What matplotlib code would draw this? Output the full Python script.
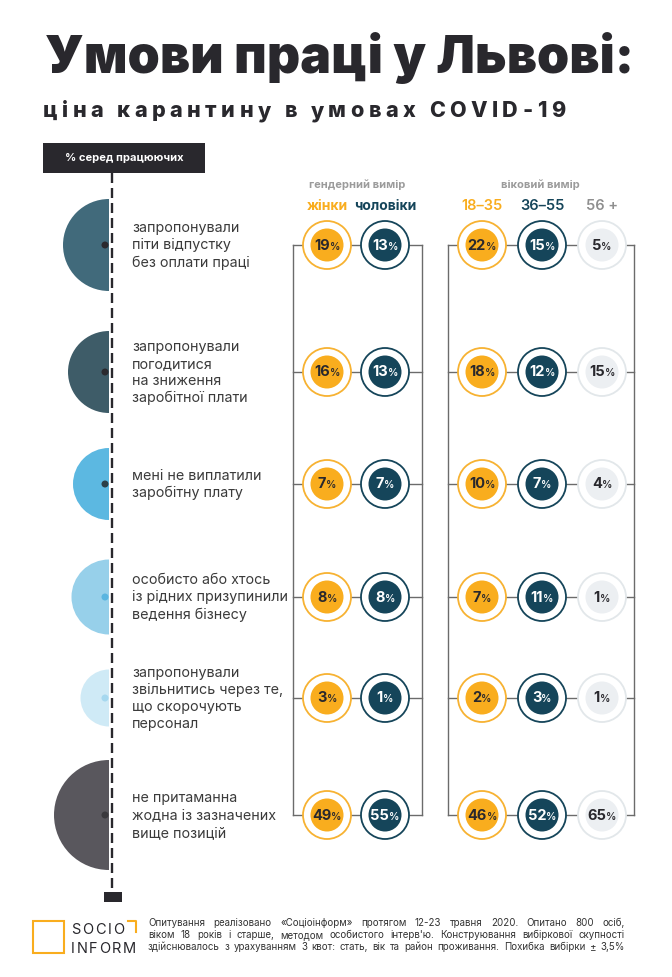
import matplotlib
matplotlib.use('Agg')
import matplotlib.pyplot as plt
from matplotlib.patches import Circle, Wedge, Rectangle

plt.rcParams['font.family'] = ['Inter', 'DejaVu Sans']
plt.rcParams['lines.scale_dashes'] = False

labels = [
    ['запропонували', 'піти відпустку', 'без оплати праці'],
    ['запропонували', 'погодитися', 'на зниження', 'заробітної плати'],
    ['мені не виплатили', 'заробітну плату'],
    ['особисто або хтось', 'із рідних призупинили', 'ведення бізнесу'],
    ['запропонували', 'звільнитись через те,', 'що скорочують', 'персонал'],
    ['не притаманна', 'жодна із зазначених', 'вище позицій'],
]
women = [19, 16, 7, 8, 3, 49]
men = [13, 13, 7, 8, 1, 55]
age_18_35 = [22, 18, 10, 7, 2, 46]
age_36_55 = [15, 12, 7, 11, 3, 52]
age_56 = [5, 15, 4, 1, 1, 65]

gender_names = ['жінки', 'чоловіки']
age_names = ['18–35', '36–55', '56 +']

title = 'Умови праці у Львові:'
subtitle = 'ціна карантину в умовах COVID-19'
footer = [
    'Опитування реалізовано «Соціоінформ» протягом 12-23 травня 2020. Опитано 800 осіб,',
    "віком 18 років і старше, методом особистого інтерв'ю. Конструювання вибіркової скупності",
    'здійснювалось з урахуванням 3 квот: стать, вік та район проживання. Похибка вибірки ± 3,5%',
]

# ---- layout / style ----
dark = '#29282d'
orange = '#f9ad1e'
orange_ring = '#f7b232'
teal = '#15455a'
light = '#eceff2'
light_ring = '#e2e7ea'
line_col = '#6b6b6b'

row_y = [245, 372, 484, 597, 698, 815]
half_r = [46, 41, 36, 37.5, 28.5, 55]
half_col = ['#416a7b', '#3e5c68', '#5cb8e1', '#97d0ea', '#cfeaf6', '#59575d']
dot_col = ['#2b2a2f', '#2b2a2f', '#2b3f48', '#5ab5e0', '#a6d8ef', '#3a393d']

gender_x = [327, 385]
age_x = [482, 542, 602]

fig = plt.figure(figsize=(6.72, 9.77), dpi=100)
ax = fig.add_axes([0, 0, 1, 1])
ax.set_xlim(0, 672)
ax.set_ylim(977, 0)
ax.axis('off')
renderer = fig.canvas.get_renderer()


def text_w(s, **kw):
    t = ax.text(0, 0, s, **kw)
    w = t.get_window_extent(renderer).width
    t.remove()
    return w


def advance(s, **kw):
    return text_w('H' + s + 'H', **kw) - text_w('HH', **kw)


def tracked(x0, x1, y, s, **kw):
    # spread characters so the line runs from x0 to x1
    adv = [advance(c, **kw) for c in s]
    sp = (x1 - x0 - sum(adv[:-1]) - text_w(s[-1], **kw)) / (len(s) - 1)
    x = x0
    for c, a in zip(s, adv):
        if c != ' ':
            ax.text(x, y, c, ha='left', va='baseline', **kw)
        x += a + sp


def justify(x0, x1, y, line, **kw):
    words = line.split(' ')
    ws = [text_w(w, **kw) for w in words]
    gap = (x1 - x0 - sum(ws)) / (len(words) - 1)
    x = x0
    for w, wd in zip(words, ws):
        ax.text(x, y, w, ha='left', va='baseline', **kw)
        x += wd + gap


num_kw = dict(fontsize=10.5, fontweight='bold')
pct_kw = dict(fontsize=7.5, fontweight='semibold')


def bubble(cx, cy, v, fill, ring, tcol):
    ax.add_patch(Circle((cx, cy), 24, facecolor='white', edgecolor=ring, lw=1.3, zorder=3))
    ax.add_patch(Circle((cx, cy), 16.5, facecolor=fill, edgecolor='none', zorder=4))
    num = str(v)
    a1 = advance(num, **num_kw)
    w2 = text_w('%', **pct_kw)
    x0 = cx - (a1 + w2) / 2
    ax.text(x0, cy + 4.5, num, ha='left', va='baseline', color=tcol, zorder=5, **num_kw)
    ax.text(x0 + a1, cy + 4.5, '%', ha='left', va='baseline', color=tcol, zorder=5, **pct_kw)


# title
tsize = 40 * 588 / text_w(title, fontsize=40, fontweight='black')
ax.text(45, 73, title, ha='left', va='baseline', fontsize=tsize,
        fontweight='black', color=dark)
tracked(43, 565, 117, subtitle, fontsize=15.5, fontweight='heavy', color=dark)

# box + dashed axis
ax.add_patch(Rectangle((43, 143), 162, 30, facecolor=dark, edgecolor='none'))
ax.text(124, 158, '% серед працюючих', ha='center', va='center', fontsize=8,
        fontweight='bold', color='white')
ax.plot([112, 112], [173, 892], color=dark, lw=1.7, dashes=(7.2, 3.6))
ax.add_patch(Rectangle((104, 892), 18, 10, facecolor=dark, edgecolor='none'))

# headers
ax.text(357, 185, 'гендерний вимір', ha='center', va='center', fontsize=8,
        fontweight='bold', color='#9b9b9b')
ax.text(540, 185, 'віковий вимір', ha='center', va='center', fontsize=8,
        fontweight='bold', color='#9b9b9b')
for x, name, c in zip(gender_x, gender_names, [orange, teal]):
    ax.text(x, 206, name, ha='center', va='center', fontsize=10,
            fontweight='bold', color=c)
for x, name, c in zip(age_x, age_names, [orange, teal, '#8f8f8f']):
    ax.text(x, 206, name, ha='center', va='center', fontsize=10.5,
            fontweight='semibold', color=c)

# brackets
for xl, xr in [(293, 422), (448, 634)]:
    ax.plot([xl, xl], [row_y[0], row_y[-1]], color=line_col, lw=1, zorder=1)
    ax.plot([xr, xr], [row_y[0], row_y[-1]], color=line_col, lw=1, zorder=1)
    for y in row_y:
        ax.plot([xl, xr], [y, y], color=line_col, lw=1, zorder=1)

# rows
for i, y in enumerate(row_y):
    ax.add_patch(Wedge((109, y), half_r[i], 90, 270, facecolor=half_col[i],
                       edgecolor='none'))
    ax.add_patch(Circle((105, y), 3.5, facecolor=dot_col[i], edgecolor='none', zorder=2))
    n = len(labels[i])
    for j, line in enumerate(labels[i]):
        ax.text(132, y + (j - (n - 1) / 2) * 17.3 + 4.5, line, ha='left',
                va='baseline', fontsize=10.3, color='#3b3b3b')
    bubble(gender_x[0], y, women[i], orange, orange_ring, dark)
    bubble(gender_x[1], y, men[i], teal, teal, 'white')
    bubble(age_x[0], y, age_18_35[i], orange, orange_ring, dark)
    bubble(age_x[1], y, age_36_55[i], teal, teal, 'white')
    bubble(age_x[2], y, age_56[i], light, light_ring, dark)

# footer logo
ax.add_patch(Rectangle((33, 921), 31, 32, facecolor='none', edgecolor=orange, lw=1.5))
ax.plot([128, 136, 136], [921, 921, 932], color=orange, lw=1.5)
tracked(71, 124, 934, 'SOCIO', fontsize=10.5, color=dark)
tracked(71, 136, 953, 'INFORM', fontsize=10.5, color=dark)
for k, line in enumerate(footer):
    justify(148, 625, 926.5 + 12 * k, line, fontsize=7, color='#333333')

fig.savefig('out.png', dpi=100)
